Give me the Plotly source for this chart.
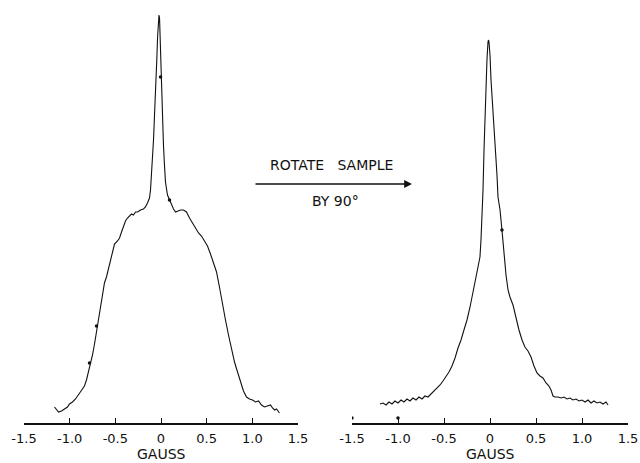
import plotly.graph_objects as go

# ---- data: field offset (gauss) and signal (arbitrary units) ----
left_gauss = [-1.166, -1.144, -1.122, -1.089, -1.057, -1.024, -1.002, -0.969, -0.936, -0.903,
              -0.870, -0.838, -0.816, -0.794, -0.772, -0.750, -0.728, -0.706, -0.684, -0.662,
              -0.641, -0.619, -0.597, -0.575, -0.553, -0.531, -0.509, -0.476, -0.454, -0.432,
              -0.411, -0.389, -0.367, -0.345, -0.323, -0.301, -0.279, -0.257, -0.224, -0.192,
              -0.170, -0.148, -0.126, -0.115, -0.104, -0.093, -0.082, -0.071, -0.060, -0.049,
              -0.044, -0.038, -0.033, -0.027, -0.022, -0.016, -0.011, -0.005, 0.000, 0.005,
              0.016, 0.027, 0.038, 0.049, 0.071, 0.093, 0.115, 0.137, 0.159, 0.181,
              0.214, 0.246, 0.279, 0.312, 0.345, 0.378, 0.411, 0.443, 0.476, 0.509,
              0.542, 0.575, 0.608, 0.640, 0.673, 0.706, 0.739, 0.772, 0.805, 0.838,
              0.870, 0.903, 0.936, 0.969, 1.002, 1.035, 1.068, 1.100, 1.133, 1.166,
              1.199, 1.221, 1.243, 1.265, 1.297]
left_signal = [16, 13, 11, 12, 14, 16, 19, 21, 24, 28,
               32, 37, 43, 51, 59, 68, 79, 91, 105, 119,
               131, 140, 146, 155, 164, 173, 179, 182, 185, 191,
               197, 202, 205, 207, 209, 208, 211, 211, 213, 214,
               216, 220, 225, 233, 248, 263, 283, 308, 328, 351,
               368, 385, 398, 405, 408, 405, 388, 363, 346, 328,
               303, 278, 258, 241, 228, 223, 218, 214, 211, 212,
               213, 213, 211, 205, 200, 195, 190, 187, 182, 177,
               169, 161, 151, 136, 118, 103, 88, 73, 61, 51,
               41, 32, 26, 24, 23, 21, 22, 18, 16, 17,
               18, 15, 13, 14, 10]

right_gauss = [-1.196, -1.163, -1.130, -1.098, -1.065, -1.033, -1.000, -0.967, -0.935, -0.902,
               -0.870, -0.837, -0.804, -0.772, -0.739, -0.707, -0.674, -0.641, -0.609, -0.576,
               -0.543, -0.511, -0.478, -0.446, -0.413, -0.380, -0.348, -0.315, -0.283, -0.250,
               -0.217, -0.185, -0.152, -0.120, -0.109, -0.098, -0.087, -0.076, -0.065, -0.054,
               -0.043, -0.033, -0.022, -0.016, -0.011, 0.000, 0.011, 0.022, 0.033, 0.043,
               0.054, 0.065, 0.076, 0.087, 0.109, 0.130, 0.152, 0.174, 0.196, 0.217,
               0.250, 0.283, 0.315, 0.348, 0.380, 0.413, 0.446, 0.478, 0.511, 0.543,
               0.576, 0.609, 0.641, 0.663, 0.685, 0.707, 0.739, 0.772, 0.804, 0.837,
               0.870, 0.902, 0.935, 0.967, 1.000, 1.033, 1.065, 1.098, 1.130, 1.163,
               1.196, 1.228, 1.261, 1.283]
right_signal = [19, 20, 18, 21, 19, 22, 20, 23, 21, 24,
                22, 25, 23, 26, 24, 27, 26, 29, 32, 34,
                38, 42, 46, 51, 57, 65, 75, 83, 93, 103,
                116, 131, 146, 161, 166, 183, 203, 233, 273, 308,
                338, 363, 381, 383, 381, 368, 343, 328, 313, 298,
                283, 270, 248, 226, 213, 193, 168, 148, 133, 126,
                118, 105, 93, 83, 76, 72, 66, 57, 50, 47,
                45, 40, 37, 33, 27, 26, 26, 25, 26, 24,
                25, 23, 24, 22, 23, 21, 23, 20, 22, 20,
                21, 19, 21, 18]

# small calibration dots on the traces
left_dot_gauss = [-0.783, -0.706, -0.005, 0.093]
left_dot_signal = [60, 97, 346, 223]
right_dot_gauss = [-1.5, -1.0, 0.130]
right_dot_signal = [5, 5, 193]

tick_vals = [-1.5, -1.0, -0.5, 0, 0.5, 1.0, 1.5]
tick_text = ["-1.5", "-1.0", "-0.5", "0", "0.5", "1.0", "1.5"]
x_title = "GAUSS"

INK = "#111111"
FONT = "DejaVu Sans"

fig = go.Figure()
fig.add_trace(go.Scatter(x=left_gauss, y=left_signal, mode="lines",
                         line=dict(color=INK, width=1.1), xaxis="x", yaxis="y", showlegend=False))
fig.add_trace(go.Scatter(x=right_gauss, y=right_signal, mode="lines",
                         line=dict(color=INK, width=1.1), xaxis="x2", yaxis="y", showlegend=False))
fig.add_trace(go.Scatter(x=left_dot_gauss, y=left_dot_signal, mode="markers",
                         marker=dict(color=INK, size=3.5), xaxis="x", yaxis="y", showlegend=False))
fig.add_trace(go.Scatter(x=right_dot_gauss, y=right_dot_signal, mode="markers",
                         marker=dict(color=INK, size=3.5), xaxis="x2", yaxis="y", showlegend=False))

xaxis_common = dict(
    range=[-1.5, 1.5], tickvals=tick_vals, ticktext=tick_text,
    showline=True, linecolor=INK, linewidth=1.5, ticks="inside", ticklen=5,
    tickcolor=INK, tickwidth=1, showgrid=False, zeroline=False,
    tickfont=dict(family=FONT, size=13, color=INK), ticklabelstandoff=3,
    anchor="y", automargin=False, fixedrange=True,
)

title_font = dict(family=FONT, size=14, color=INK)

fig.update_layout(
    width=640, height=463,
    margin=dict(l=0, r=0, t=0, b=0),
    paper_bgcolor="white", plot_bgcolor="white",
    xaxis=dict(domain=[24 / 640, 298 / 640], **xaxis_common),
    xaxis2=dict(domain=[352 / 640, 628 / 640], **xaxis_common),
    yaxis=dict(domain=[40 / 463, 1], range=[0, 423], visible=False, fixedrange=True),
    annotations=[
        dict(text=x_title, xref="x", yref="paper", x=0, y=0, yanchor="bottom",
             showarrow=False, font=title_font, borderpad=0),
        dict(text=x_title, xref="x2", yref="paper", x=0, y=0, yanchor="bottom",
             showarrow=False, font=title_font, borderpad=0),
        dict(text="ROTATE&nbsp;&nbsp;&nbsp;SAMPLE", xref="paper", yref="paper",
             x=331 / 640, y=1 - 165 / 463, showarrow=False,
             font=dict(family=FONT, size=14, color=INK)),
        dict(text="BY 90°", xref="paper", yref="paper",
             x=335 / 640, y=1 - 201 / 463, showarrow=False,
             font=dict(family=FONT, size=14, color=INK)),
        dict(text="", xref="paper", yref="paper", x=412 / 640, y=1 - 184 / 463,
             ax=-158, ay=0, showarrow=True, arrowhead=2, arrowsize=1.2,
             arrowwidth=1.3, arrowcolor=INK),
    ],
)

fig.write_html("out.html", config={"displayModeBar": False},
               post_script="document.body.style.margin='0';document.body.style.overflow='hidden';")
